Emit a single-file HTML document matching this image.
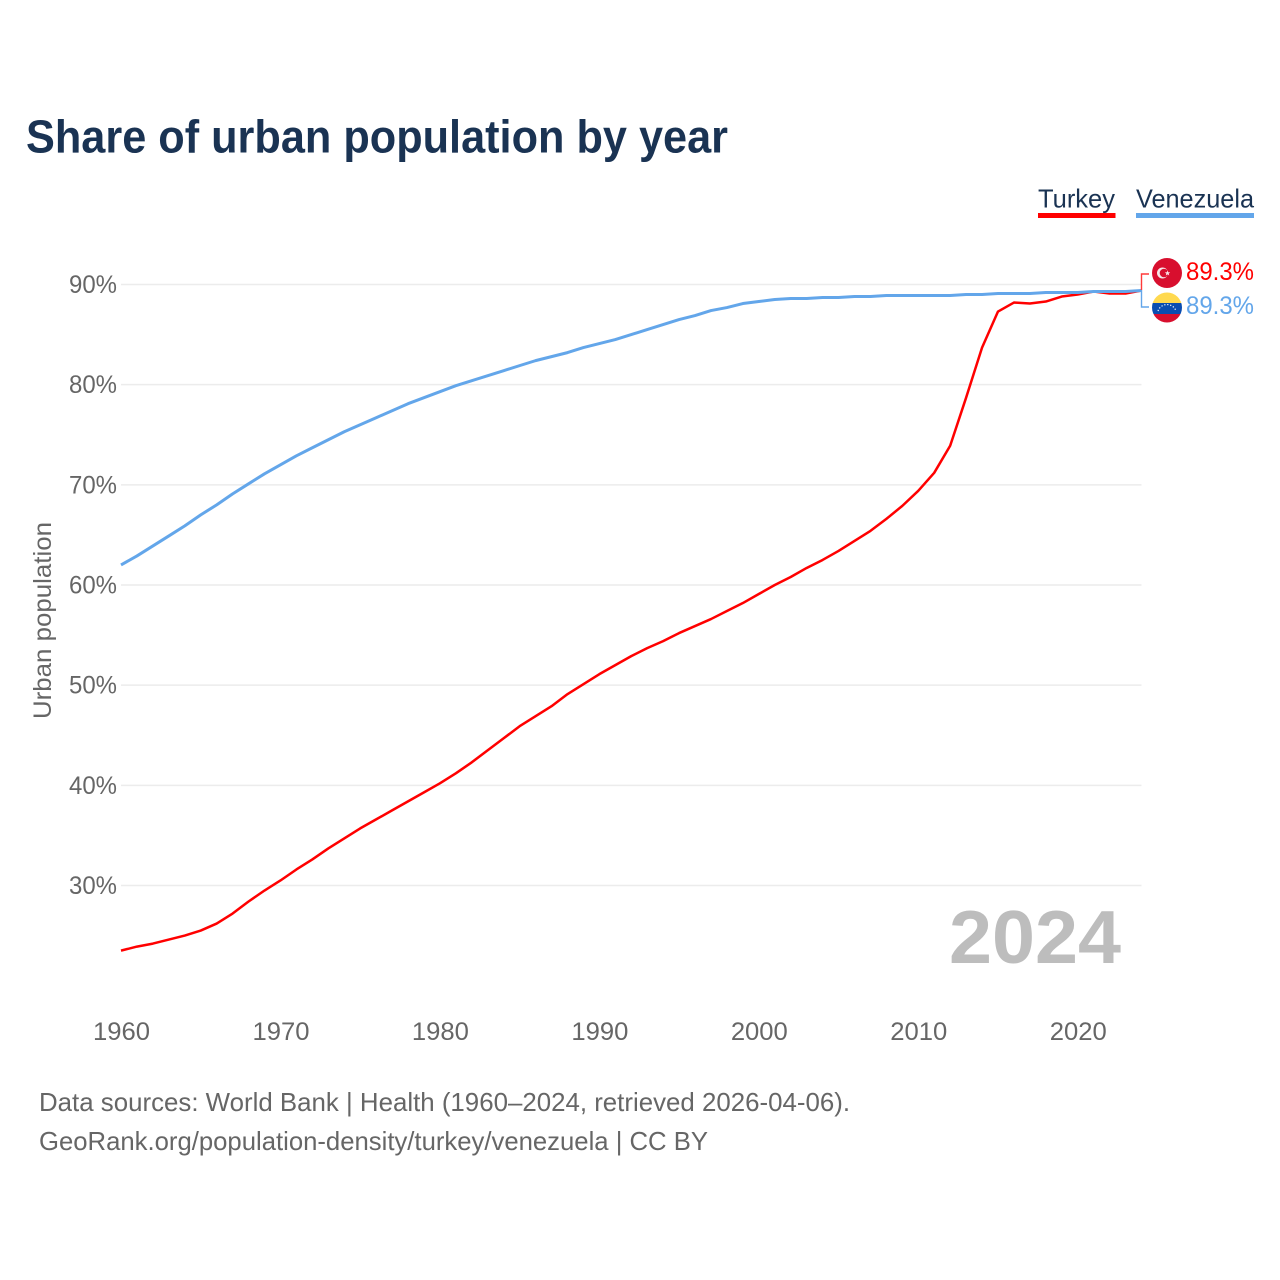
<!DOCTYPE html>
<html lang="en">
<head>
<meta charset="utf-8">
<title>Share of urban population by year</title>
<style>
html,body{margin:0;padding:0;background:#fff;width:1280px;height:1280px;overflow:hidden}
svg{display:block}
text{font-family:"Liberation Sans",sans-serif}
</style>
</head>
<body>
<svg id="chart" width="1280" height="1280" viewBox="0 0 1280 1280" xmlns="http://www.w3.org/2000/svg">
  <text x="26" y="152.500" font-size="46" font-weight="700" fill="#1a3353" textLength="702" lengthAdjust="spacingAndGlyphs">Share of urban population by year</text>

  <g>
    <g>
      <text x="1038" y="207.500" font-size="26" fill="#1a3353" textLength="77" lengthAdjust="spacingAndGlyphs">Turkey</text>
      <rect x="1038" y="213" width="77.500" height="5" fill="#ff0000"/>
    </g>
    <g>
      <text x="1136" y="207.500" font-size="26" fill="#1a3353" textLength="118" lengthAdjust="spacingAndGlyphs">Venezuela</text>
      <rect x="1136" y="213" width="118" height="5" fill="#63a6ea"/>
    </g>
  </g>

  <g id="grid"></g>
  <g id="yTicks"></g>
  <g id="xTicks"></g>

  <text transform="translate(51 620.500) rotate(-90)" text-anchor="middle" font-size="25" fill="#666666" textLength="197" lengthAdjust="spacingAndGlyphs">Urban population</text>

  <text x="949" y="963" font-size="75" font-weight="700" fill="#bdbdbd" textLength="172" lengthAdjust="spacingAndGlyphs">2024</text>

  <g id="series"></g>

  <path d="M1149 274H1141.500V290" fill="none" stroke="#ff3a3a" stroke-width="1.400"/>
  <path d="M1149 307H1141.500V290" fill="none" stroke="#63a6ea" stroke-width="1.400"/>

  <defs>
    <clipPath id="vzClip"><circle cx="1167" cy="307.500" r="15"/></clipPath>
  </defs>
  <g>
    <circle cx="1167" cy="273" r="15" fill="#d80f2e"/>
    <circle cx="1162.500" cy="273" r="5.500" fill="#f6e6e8"/>
    <circle cx="1164" cy="273" r="4.300" fill="#d80f2e"/>
    <polygon points="1167.500,270.500 1168.200,272.300 1170.200,272.400 1168.700,273.600 1169.200,275.500 1167.500,274.400 1165.800,275.500 1166.300,273.600 1164.800,272.400 1166.800,272.300" fill="#f6e6e8"/>
  </g>
  <g clip-path="url(#vzClip)">
    <rect x="1152" y="292" width="30" height="11" fill="#ffd94f"/>
    <rect x="1152" y="303" width="30" height="11" fill="#0a4db0"/>
    <rect x="1152" y="314" width="30" height="10" fill="#d80f2e"/>
    <path d="M1158 311a9.500 9.500 0 0 1 18 0" fill="none" stroke="#fff" stroke-width="1.200" stroke-dasharray="1.200 1.800"/>
  </g>

  <text x="1186" y="280" font-size="25" fill="#ff0000" textLength="68" lengthAdjust="spacingAndGlyphs">89.3%</text>
  <text x="1186" y="314" font-size="25" fill="#63a6ea" textLength="68" lengthAdjust="spacingAndGlyphs">89.3%</text>

  <text x="39" y="1111" font-size="26" fill="#666666" textLength="811" lengthAdjust="spacingAndGlyphs">Data sources: World Bank | Health (1960–2024, retrieved 2026-04-06).</text>
  <text x="39" y="1150" font-size="26" fill="#666666" textLength="669" lengthAdjust="spacingAndGlyphs">GeoRank.org/population-density/turkey/venezuela | CC BY</text>
</svg>
<script>
const firstYear = 1960;
const lastYear = 2024;
const yTickValues = [30, 40, 50, 60, 70, 80, 90];
const xTickValues = [1960, 1970, 1980, 1990, 2000, 2010, 2020];
const turkeyValues = [23.5, 23.9, 24.2, 24.6, 25.0, 25.5, 26.2, 27.2, 28.4, 29.5, 30.5, 31.6, 32.6, 33.7, 34.7, 35.7, 36.6, 37.5, 38.4, 39.3, 40.2, 41.2, 42.3, 43.5, 44.7, 45.9, 46.9, 47.9, 49.1, 50.1, 51.1, 52.0, 52.9, 53.7, 54.4, 55.2, 55.9, 56.6, 57.4, 58.2, 59.1, 60.0, 60.8, 61.7, 62.5, 63.4, 64.4, 65.4, 66.6, 67.9, 69.4, 71.2, 73.9, 78.7, 83.7, 87.3, 88.2, 88.1, 88.3, 88.8, 89.0, 89.3, 89.1, 89.1, 89.4];
const venezuelaValues = [62.0, 62.9, 63.9, 64.9, 65.9, 67.0, 68.0, 69.1, 70.1, 71.1, 72.0, 72.9, 73.7, 74.5, 75.3, 76.0, 76.7, 77.4, 78.1, 78.7, 79.3, 79.9, 80.4, 80.9, 81.4, 81.9, 82.4, 82.8, 83.2, 83.7, 84.1, 84.5, 85.0, 85.5, 86.0, 86.5, 86.9, 87.4, 87.7, 88.1, 88.3, 88.5, 88.6, 88.6, 88.7, 88.7, 88.8, 88.8, 88.9, 88.9, 88.9, 88.9, 88.9, 89.0, 89.0, 89.1, 89.1, 89.1, 89.2, 89.2, 89.2, 89.3, 89.3, 89.3, 89.4];

const NS = 'http://www.w3.org/2000/svg';
const xScale = function (year) { return 121 + (year - firstYear) * (1141.500 - 121) / (lastYear - firstYear); };
const yScale = function (value) { return 284.500 + (90 - value) * (885.500 - 284.500) / 60; };

const grid = document.getElementById('grid');
const yTicks = document.getElementById('yTicks');
const xTicks = document.getElementById('xTicks');
const series = document.getElementById('series');

yTickValues.forEach(function (v) {
  const line = document.createElementNS(NS, 'line');
  
  
  line.setAttribute('x1', 121);
  line.setAttribute('x2', 1141.500);
  line.setAttribute('y1', yScale(v));
  line.setAttribute('y2', yScale(v));
  line.setAttribute('stroke', '#ececec');
  line.setAttribute('stroke-width', 1.500);
  grid.appendChild(line);

  const label = document.createElementNS(NS, 'text');
  
  
  label.setAttribute('x', 69);
  label.setAttribute('y', yScale(v) + 8.500);
  label.setAttribute('font-size', 25);
  label.setAttribute('fill', '#666666');
  label.setAttribute('textLength', 48);
  label.setAttribute('lengthAdjust', 'spacingAndGlyphs');
  label.textContent = v + '%';
  yTicks.appendChild(label);
});

xTickValues.forEach(function (y) {
  const label = document.createElementNS(NS, 'text');
  
  
  label.setAttribute('x', xScale(y) - 28);
  label.setAttribute('y', 1040);
  label.setAttribute('font-size', 25);
  label.setAttribute('fill', '#666666');
  label.setAttribute('textLength', 57);
  label.setAttribute('lengthAdjust', 'spacingAndGlyphs');
  label.textContent = y;
  xTicks.appendChild(label);
});

function linePath(values) {
  return values.map(function (v, i) {
    return (i ? 'L' : 'M') + xScale(firstYear + i).toFixed(2) + ' ' + yScale(v).toFixed(2);
  }).join('');
}

const turkeyLine = document.createElementNS(NS, 'path');


turkeyLine.setAttribute('d', linePath(turkeyValues));
turkeyLine.setAttribute('fill', 'none');
turkeyLine.setAttribute('stroke', '#ff0000');
turkeyLine.setAttribute('stroke-width', 2.500);
turkeyLine.setAttribute('stroke-linejoin', 'round');
series.appendChild(turkeyLine);

const venezuelaLine = document.createElementNS(NS, 'path');


venezuelaLine.setAttribute('d', linePath(venezuelaValues));
venezuelaLine.setAttribute('fill', 'none');
venezuelaLine.setAttribute('stroke', '#63a6ea');
venezuelaLine.setAttribute('stroke-width', 3);
venezuelaLine.setAttribute('stroke-linejoin', 'round');
series.appendChild(venezuelaLine);
</script>
</body>
</html>
